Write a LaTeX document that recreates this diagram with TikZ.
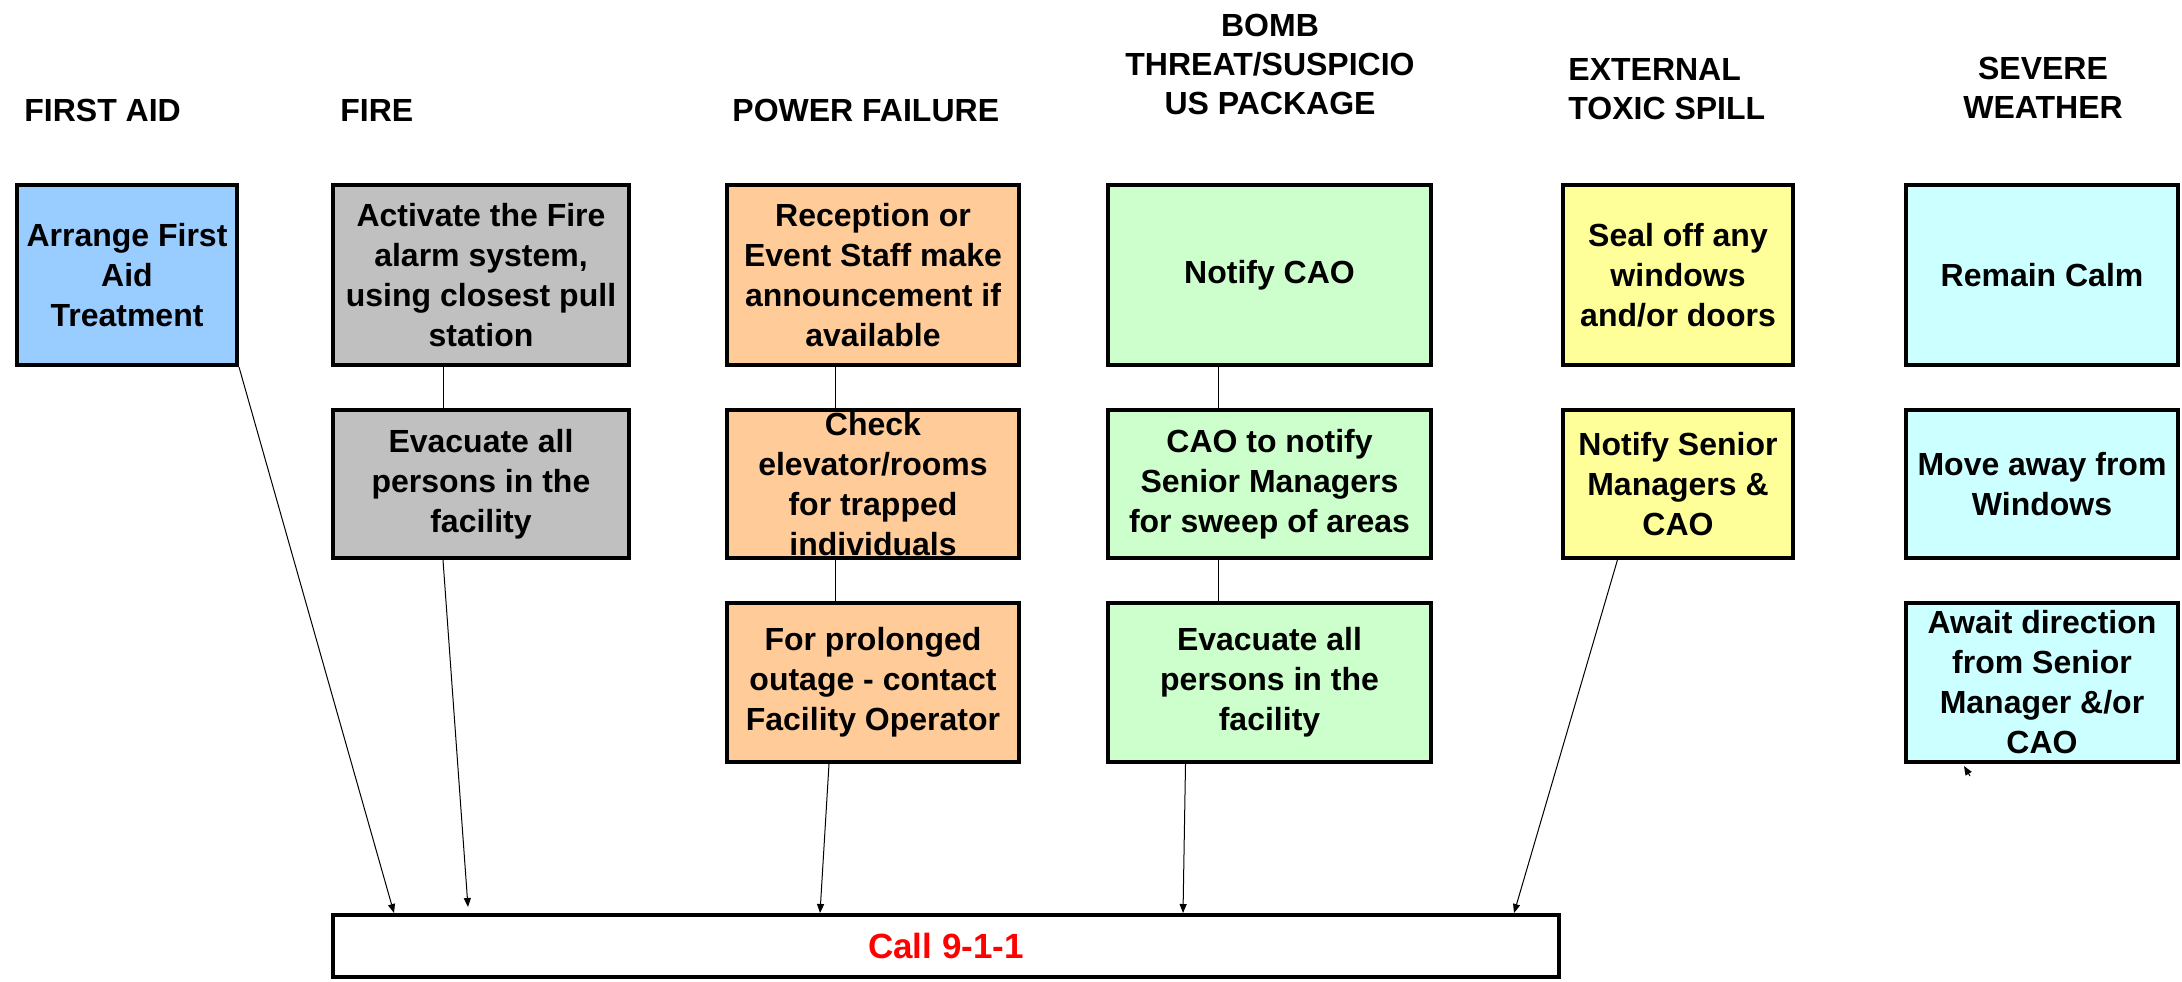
\documentclass[tikz,border=0pt]{standalone}
\usepackage{fontspec}
\setmainfont{Liberation Sans}
\usetikzlibrary{arrows.meta,calc}
\definecolor{faBlue}{HTML}{99CCFF}
\definecolor{fireGray}{HTML}{C0C0C0}
\definecolor{powOrange}{HTML}{FFCC99}
\definecolor{bombGreen}{HTML}{CCFFCC}
\definecolor{toxYellow}{HTML}{FFFF99}
\definecolor{sevCyan}{HTML}{CCFFFF}
\definecolor{callRed}{HTML}{FF0000}
\begin{document}
\begin{tikzpicture}[x=0.5pt,y=-0.5pt,
  stepbox/.style={draw=black, line width=2pt, align=center, inner sep=0pt,
    font=\bfseries\fontsize{16}{20}\selectfont},
  heading/.style={inner sep=0pt, font=\bfseries\fontsize{16}{19.5}\selectfont},
  link/.style={draw=black, line width=0.5pt},
  arr/.style={draw=black, line width=0.5pt, -{Triangle[length=4.5pt,width=3.5pt]}}
]
\useasboundingbox (0,0) rectangle (2182,981);

% headings
\node[heading, anchor=west] (hfa) at (24,110) {FIRST AID};
\node[heading, anchor=west] (hfire) at (340,110) {FIRE};
\node[heading, anchor=west] (hpow) at (732,110) {POWER FAILURE};
\node[heading, align=center] (hbomb) at (1270,64) {BOMB\\THREAT/SUSPICIO\\US PACKAGE};
\node[heading, align=left, anchor=west] (htox) at (1568,89) {EXTERNAL\\TOXIC SPILL};
\node[heading, align=center] (hsev) at (2043,87.5) {SEVERE\\WEATHER};

% first aid
\node[stepbox, fill=faBlue, minimum width=110pt, minimum height=90pt] (fa) at (127,275)
  {Arrange First\\Aid\\Treatment};

% fire
\node[stepbox, fill=fireGray, minimum width=148pt, minimum height=90pt] (fire1) at (481,275)
  {Activate the Fire\\alarm system,\\using closest pull\\station};
\node[stepbox, fill=fireGray, minimum width=148pt, minimum height=74pt] (fire2) at (481,484)
  {Evacuate all\\persons in the\\facility};

% power failure
\node[stepbox, fill=powOrange, minimum width=146pt, minimum height=90pt] (pow1) at (873,275)
  {Reception or\\Event Staff make\\announcement if\\available};
\node[stepbox, fill=powOrange, minimum width=146pt, minimum height=74pt] (pow2) at (873,484)
  {Check\\elevator/rooms\\for trapped\\individuals};
\node[stepbox, fill=powOrange, minimum width=146pt, minimum height=79.5pt] (pow3) at (873,682.5)
  {For prolonged\\outage - contact\\Facility Operator};

% bomb threat
\node[stepbox, fill=bombGreen, minimum width=161.5pt, minimum height=90pt] (bomb1) at (1269.5,275)
  {Notify CAO};
\node[stepbox, fill=bombGreen, minimum width=161.5pt, minimum height=74pt] (bomb2) at (1269.5,484)
  {CAO to notify\\Senior Managers\\for sweep of areas};
\node[stepbox, fill=bombGreen, minimum width=161.5pt, minimum height=79.5pt] (bomb3) at (1269.5,682.5)
  {Evacuate all\\persons in the\\facility};

% toxic spill
\node[stepbox, fill=toxYellow, minimum width=115pt, minimum height=90pt] (tox1) at (1678,275)
  {Seal off any\\windows\\and/or doors};
\node[stepbox, fill=toxYellow, minimum width=115pt, minimum height=74pt] (tox2) at (1678,484)
  {Notify Senior\\Managers \&\\CAO};

% severe weather
\node[stepbox, fill=sevCyan, minimum width=136pt, minimum height=90pt] (sev1) at (2042,275)
  {Remain Calm};
\node[stepbox, fill=sevCyan, minimum width=136pt, minimum height=74pt] (sev2) at (2042,484)
  {Move away from\\Windows};
\node[stepbox, fill=sevCyan, minimum width=136pt, minimum height=79.5pt] (sev3) at (2042,682.5)
  {Await direction\\from Senior\\Manager \&/or\\CAO};

% call box
\node[stepbox, fill=white, minimum width=613pt, minimum height=31pt,
  font=\bfseries\fontsize{17.5}{20}\selectfont, text=callRed] (call) at (946,946) {Call 9-1-1};

% links within columns
\draw[link] ([xshift=-19pt]fire1.south) -- ([xshift=-19pt]fire2.north);
\draw[link] ([xshift=-19pt]pow1.south) -- ([xshift=-19pt]pow2.north);
\draw[link] ([xshift=-19pt]pow2.south) -- ([xshift=-19pt]pow3.north);
\draw[link] ([xshift=-25.75pt]bomb1.south) -- ([xshift=-25.75pt]bomb2.north);
\draw[link] ([xshift=-25.75pt]bomb2.south) -- ([xshift=-25.75pt]bomb3.north);

% arrows to call box
\draw[arr] (fa.south east) -- ($(call.north west)+(63,0)$);
\draw[arr] ([xshift=-19pt]fire2.south) -- ($(call.north west)+(137,-6)$);
\draw[arr] ([xshift=-22pt]pow3.south) -- ($(call.north west)+(489,0)$);
\draw[arr] ([xshift=-42pt]bomb3.south) -- ($(call.north west)+(852,0)$);
\draw[arr] ([xshift=-30pt,yshift=1pt]tox2.south) -- ($(call.north west)+(1183,0)$);

% stray arrow tip below severe weather column
\coordinate (stubA) at (1970,776);
\coordinate (stubB) at (1964,766);
\draw[arr] (stubA) -- (stubB);
\end{tikzpicture}
\end{document}
